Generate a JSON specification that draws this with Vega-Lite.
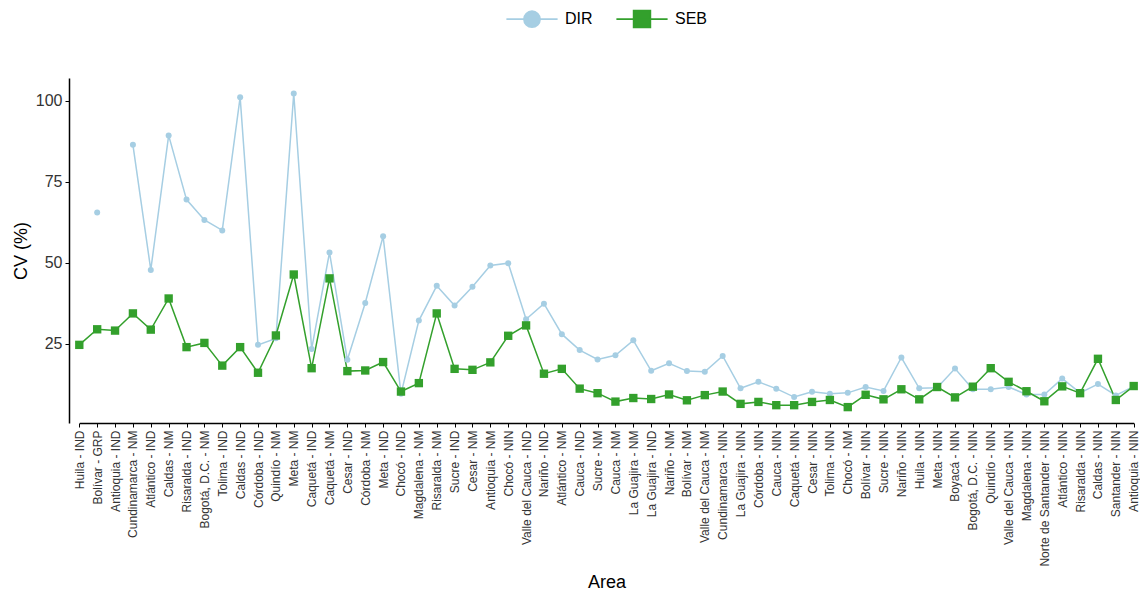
{
  "$schema": "https://vega.github.io/schema/vega-lite/v6.json",
  "width": 1071,
  "height": 345,
  "autosize": {"type": "none"},
  "padding": {"left": 69, "top": 78, "right": 0, "bottom": 169},
  "background": "white",
  "config": {
    "view": {"stroke": null},
    "font": "Liberation Sans",
    "axis": {"grid": false, "domainColor": "black", "domainWidth": 1.5, "tickColor": "black", "tickSize": 4, "labelColor": "#333333", "titleColor": "black", "titleFontWeight": "normal"}
  },
  "data": {"values": [
    {"Area": "Huila - IND", "DIR": null, "SEB": 24.7},
    {"Area": "Bolívar - GRP", "DIR": 65.5, "SEB": 29.5},
    {"Area": "Antioquia - IND", "DIR": null, "SEB": 29.1},
    {"Area": "Cundinamarca - NM", "DIR": 86.4, "SEB": 34.4},
    {"Area": "Atlántico - IND", "DIR": 47.8, "SEB": 29.4},
    {"Area": "Caldas - NM", "DIR": 89.3, "SEB": 39.0},
    {"Area": "Risaralda - IND", "DIR": 69.5, "SEB": 24.0},
    {"Area": "Bogotá, D.C. - NM", "DIR": 63.2, "SEB": 25.3},
    {"Area": "Tolima - IND", "DIR": 60.0, "SEB": 18.3},
    {"Area": "Caldas - IND", "DIR": 101.1, "SEB": 24.0},
    {"Area": "Córdoba - IND", "DIR": 24.7, "SEB": 16.1},
    {"Area": "Quindío - NM", "DIR": 26.7, "SEB": 27.6},
    {"Area": "Meta - NM", "DIR": 102.2, "SEB": 46.4},
    {"Area": "Caquetá - IND", "DIR": 23.4, "SEB": 17.5},
    {"Area": "Caquetá - NM", "DIR": 53.2, "SEB": 45.2},
    {"Area": "Cesar - IND", "DIR": 20.1, "SEB": 16.6},
    {"Area": "Córdoba - NM", "DIR": 37.6, "SEB": 16.8},
    {"Area": "Meta - IND", "DIR": 58.2, "SEB": 19.4},
    {"Area": "Chocó - IND", "DIR": 9.6, "SEB": 10.3},
    {"Area": "Magdalena - NM", "DIR": 32.2, "SEB": 12.9},
    {"Area": "Risaralda - NM", "DIR": 42.9, "SEB": 34.4},
    {"Area": "Sucre - IND", "DIR": 36.8, "SEB": 17.3},
    {"Area": "Cesar - NM", "DIR": 42.6, "SEB": 17.0},
    {"Area": "Antioquia - NM", "DIR": 49.2, "SEB": 19.3},
    {"Area": "Chocó - NIN", "DIR": 49.9, "SEB": 27.5},
    {"Area": "Valle del Cauca - IND", "DIR": 32.6, "SEB": 30.7},
    {"Area": "Nariño - IND", "DIR": 37.4, "SEB": 15.8},
    {"Area": "Atlántico - NM", "DIR": 28.0, "SEB": 17.3},
    {"Area": "Cauca - IND", "DIR": 23.1, "SEB": 11.2},
    {"Area": "Sucre - NM", "DIR": 20.2, "SEB": 9.8},
    {"Area": "Cauca - NM", "DIR": 21.5, "SEB": 7.2},
    {"Area": "La Guajira - NM", "DIR": 26.1, "SEB": 8.3},
    {"Area": "La Guajira - IND", "DIR": 16.7, "SEB": 8.0},
    {"Area": "Nariño - NM", "DIR": 19.0, "SEB": 9.4},
    {"Area": "Bolívar - NM", "DIR": 16.6, "SEB": 7.6},
    {"Area": "Valle del Cauca - NM", "DIR": 16.4, "SEB": 9.2},
    {"Area": "Cundinamarca - NIN", "DIR": 21.3, "SEB": 10.3},
    {"Area": "La Guajira - NIN", "DIR": 11.3, "SEB": 6.5},
    {"Area": "Córdoba - NIN", "DIR": 13.3, "SEB": 7.1},
    {"Area": "Cauca - NIN", "DIR": 11.2, "SEB": 6.1},
    {"Area": "Caquetá - NIN", "DIR": 8.6, "SEB": 6.1},
    {"Area": "Cesar - NIN", "DIR": 10.2, "SEB": 7.1},
    {"Area": "Tolima - NIN", "DIR": 9.6, "SEB": 7.7},
    {"Area": "Chocó - NM", "DIR": 9.9, "SEB": 5.5},
    {"Area": "Bolívar - NIN", "DIR": 11.7, "SEB": 9.3},
    {"Area": "Sucre - NIN", "DIR": 10.5, "SEB": 7.9},
    {"Area": "Nariño - NIN", "DIR": 20.8, "SEB": 11.0},
    {"Area": "Huila - NIN", "DIR": 11.3, "SEB": 7.9},
    {"Area": "Meta - NIN", "DIR": 11.5, "SEB": 11.7},
    {"Area": "Boyacá - NIN", "DIR": 17.4, "SEB": 8.5},
    {"Area": "Bogotá, D.C. - NIN", "DIR": 11.0, "SEB": 11.8},
    {"Area": "Quindío - NIN", "DIR": 11.0, "SEB": 17.5},
    {"Area": "Valle del Cauca - NIN", "DIR": 11.7, "SEB": 13.3},
    {"Area": "Magdalena - NIN", "DIR": 9.4, "SEB": 10.4},
    {"Area": "Norte de Santander - NIN", "DIR": 9.4, "SEB": 7.3},
    {"Area": "Atlántico - NIN", "DIR": 14.3, "SEB": 11.9},
    {"Area": "Risaralda - NIN", "DIR": 9.9, "SEB": 9.8},
    {"Area": "Caldas - NIN", "DIR": 12.6, "SEB": 20.4},
    {"Area": "Santander - NIN", "DIR": 9.1, "SEB": 7.7},
    {"Area": "Antioquia - NIN", "DIR": 11.9, "SEB": 12.0}
  ]},
  "transform": [{"fold": ["DIR", "SEB"], "as": ["Metodo", "CV"]}],
  "encoding": {
    "x": {
      "field": "Area", "type": "nominal", "sort": null,
      "scale": {"type": "point", "padding": 0, "range": [10.3, 1064.7]},
      "axis": {"labelAngle": -90, "labelFontSize": 12, "labelPadding": 3, "title": "Area", "titleFontSize": 18, "titlePadding": 7}
    },
    "y": {
      "field": "CV", "type": "quantitative",
      "scale": {"domain": [0.6, 107], "nice": false, "zero": false},
      "axis": {"values": [25, 50, 75, 100], "labelFontSize": 16, "labelPadding": 3, "title": "CV (%)", "titleFontSize": 18, "titlePadding": 5}
    },
    "color": {
      "field": "Metodo", "type": "nominal",
      "scale": {"domain": ["DIR", "SEB"], "range": ["#a6cee3", "#33a02c"]},
      "legend": {
        "orient": "none", "legendX": 454, "legendY": -68, "direction": "horizontal",
        "title": null, "labelFontSize": 16, "labelColor": "black", "symbolSize": 256,
        "labelOffset": 24, "columnPadding": 19, "symbolStrokeWidth": 1.8, "padding": 0,
        "encode": {"symbols": {"update": {
          "shape": {"signal": "datum.value === 'DIR' ? 'M-3.2,0L3.2,0M-1,0A1,1 0 1,1 1,0A1,1 0 1,1 -1,0Z' : 'M-3.2,0L3.2,0M-1.04,-1.04L1.04,-1.04L1.04,1.04L-1.04,1.04Z'"},
          "fill": {"signal": "datum.value === 'DIR' ? '#a6cee3' : '#33a02c'"},
          "stroke": {"signal": "datum.value === 'DIR' ? '#a6cee3' : '#33a02c'"},
          "opacity": {"value": 1}
        }}}
      }
    }
  },
  "layer": [
    {"mark": {"type": "line", "strokeWidth": 1.5}},
    {"transform": [{"filter": "datum.Metodo === 'DIR'"}], "mark": {"type": "point", "shape": "circle", "filled": true, "opacity": 1, "size": 36}},
    {"transform": [{"filter": "datum.Metodo === 'SEB'"}], "mark": {"type": "point", "shape": "square", "filled": true, "opacity": 1, "size": 70}}
  ]
}
